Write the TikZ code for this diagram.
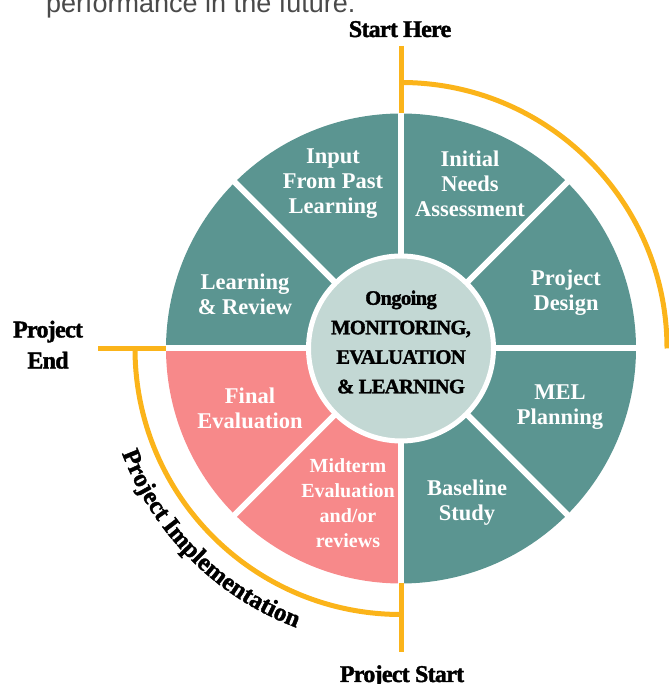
\documentclass[tikz,border=0pt]{standalone}
\usepackage{fontspec}
\usetikzlibrary{decorations.text}
\newfontfamily\labfont[FakeBold=1.6,LetterSpace=-3]{Liberation Serif}
\newfontfamily\secfont{Liberation Serif}
\newfontfamily\uifont{Liberation Sans}
\definecolor{melteal}{HTML}{5B9591}
\definecolor{melpink}{HTML}{F7898A}
\definecolor{melinner}{HTML}{C3D8D4}
\definecolor{melorange}{HTML}{FBB41A}
\definecolor{introgray}{HTML}{4A4A4A}
\begin{document}
\begin{tikzpicture}[x=1pt,y=1pt,
  sector/.style={font=\secfont\bfseries\fontsize{22.5}{25}\selectfont, text=white, align=center, inner sep=0pt},
  lab/.style={font=\labfont\bfseries\fontsize{24}{31}\selectfont, text=black, align=center, inner sep=0pt},
  hubtext/.style={font=\labfont\bfseries\fontsize{20.5}{29.5}\selectfont, text=black, align=center, inner sep=0pt},
  milestone/.style={draw=melorange, line width=5pt},
  sepline/.style={draw=white, line width=6pt}]
\useasboundingbox (0,0) rectangle (668,684);
\coordinate (c) at (401,335.5);
% sectors
\foreach \a/\col in {0/melteal,45/melteal,90/melteal,135/melteal,180/melpink,225/melpink,270/melteal,315/melteal}{
  \fill[\col] (c) -- ++(\a:235) arc[start angle=\a, end angle=\a+45, radius=235] -- cycle;
}
\foreach \a in {0,45,...,315}{
  \draw[sepline] (c) -- ++(\a:235.5);
}
% hub
\node[circle, fill=melinner, draw=white, line width=5pt, minimum size=185pt, inner sep=0pt] (hub) at (c) {};
\node[hubtext] (hubt) at (401,342) {Ongoing\\MONITORING,\\EVALUATION\\\& LEARNING};
% sector labels
\node[sector] (input) at (333,500) {Input\\From Past\\Learning};
\node[sector] (needs) at (470,500) {Initial\\Needs\\Assessment};
\node[sector] (design) at (566,391) {Project\\Design};
\node[sector] (review) at (245,390) {Learning\\\& Review};
\node[sector] (final) at (250,276) {Final\\Evaluation};
\node[sector] (mel) at (560,277) {MEL\\Planning};
\node[sector, font=\secfont\bfseries\fontsize{20}{25}\selectfont] (mid) at (348,181) {Midterm\\Evaluation\\and/or\\reviews};
\node[sector] (base) at (467,181) {Baseline\\Study};
% orange milestone lines
\draw[milestone] (401,638) -- (401,570.5);
\draw[milestone] (401,601.5) arc[start angle=90, end angle=0, radius=266];
\draw[milestone] (98,335.5) -- (166,335.5);
\draw[milestone] (135,335.5) arc[start angle=180, end angle=270, radius=266];
\draw[milestone] (401,100.5) -- (401,32);
% labels
\node[lab, anchor=base] (start) at (400,647) {Start Here};
\node[lab] (pend) at (48,339.3) {Project\\End};
\node[lab, anchor=base] (pstart) at (402,2) {Project Start};
\path[decorate, decoration={text along path, text align=center,
  text={|\labfont\bfseries\fontsize{25}{25}\selectfont|Project Implementation}}]
  (c) ++(180:298) arc[start angle=180, end angle=270, radius=298];
\node[anchor=base west, font=\uifont\fontsize{27}{27}\selectfont, text=introgray, inner sep=0pt] (intro) at (46,671) {performance in the future.};
\end{tikzpicture}
\end{document}
